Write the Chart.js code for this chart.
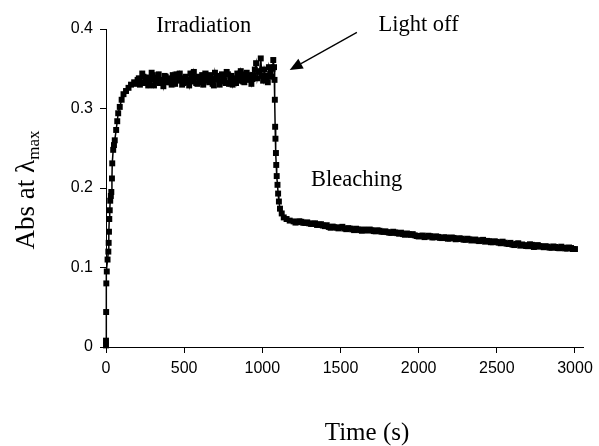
<!DOCTYPE html>
<html>
<head>
<meta charset="utf-8">
<script src="https://cdn.jsdelivr.net/npm/chart.js@4.4.0/dist/chart.umd.min.js"></script>
<style>
  html, body { margin: 0; padding: 0; background: #fff; }
</style>
</head>
<body>
<canvas id="absChart" width="599" height="446"></canvas>
<script>
// ---------- values ----------
// rise under irradiation (s / abs)
const riseTime = [0, 0, 1, 2, 5, 10, 15, 17, 19, 21, 24, 27, 31, 34, 38, 40, 46, 51, 56, 65, 72, 78, 88, 100, 112, 128, 144, 160, 180];
const riseAbs = [0.002, 0.008, 0.044, 0.08, 0.095, 0.11, 0.12, 0.131, 0.145, 0.161, 0.172, 0.184, 0.19, 0.195, 0.212, 0.231, 0.248, 0.254, 0.26, 0.273, 0.284, 0.294, 0.302, 0.311, 0.318, 0.322, 0.326, 0.33, 0.333];

// photostationary plateau, two interleaved reading sets
const plateauTime = [195, 210, 225, 240, 255, 270, 285, 300, 315, 330, 345, 360, 375, 390, 405, 420, 435, 450, 465, 480,
  495, 510, 525, 540, 555, 570, 585, 600, 615, 630, 645, 660, 675, 690, 705, 720, 735, 750, 765, 780,
  795, 810, 825, 840, 855, 870, 885, 900, 915, 930, 945, 960, 975, 990, 1005, 1020, 1035, 1050, 1065];
const plateauAbs = [0.331, 0.338, 0.333, 0.340, 0.335, 0.329, 0.337, 0.342, 0.334, 0.339, 0.332, 0.336, 0.341, 0.333, 0.338, 0.330, 0.336, 0.343, 0.335, 0.338,
  0.332, 0.340, 0.336, 0.344, 0.334, 0.339, 0.331, 0.337, 0.342, 0.335, 0.340, 0.333, 0.338, 0.329, 0.336, 0.341, 0.334, 0.339, 0.332, 0.343,
  0.336, 0.330, 0.338, 0.344, 0.335, 0.340, 0.333, 0.345, 0.336, 0.331, 0.342, 0.357, 0.347, 0.363, 0.335, 0.341, 0.333, 0.344, 0.350];
const plateauTime2 = [202, 217, 232, 247, 262, 277, 292, 307, 322, 337, 352, 367, 382, 397, 412, 427, 442, 457, 472, 487,
  502, 517, 532, 547, 562, 577, 592, 607, 622, 637, 652, 667, 682, 697, 712, 727, 742, 757, 772, 787,
  802, 817, 832, 847, 862, 877, 892, 907, 922, 937, 952, 967, 982, 997, 1012, 1027, 1042, 1057];
const plateauAbs2 = [0.336, 0.330, 0.344, 0.332, 0.339, 0.334, 0.345, 0.329, 0.337, 0.343,
  0.335, 0.328, 0.340, 0.337, 0.333, 0.342, 0.331, 0.338, 0.344, 0.330,
  0.337, 0.333, 0.329, 0.339, 0.346, 0.332, 0.340, 0.333, 0.330, 0.344,
  0.336, 0.342, 0.331, 0.345, 0.339, 0.330, 0.343, 0.335, 0.346, 0.331,
  0.341, 0.337, 0.332, 0.339, 0.347, 0.334, 0.343, 0.338, 0.342, 0.337,
  0.349, 0.338, 0.346, 0.341, 0.349, 0.336, 0.352, 0.340];

// light switched off -> fast drop
const dropTime = [1070, 1075, 1078, 1080, 1082, 1084, 1087, 1089, 1092, 1097, 1101, 1106, 1113, 1124, 1137, 1155, 1175];
const dropAbs = [0.361, 0.352, 0.336, 0.311, 0.277, 0.262, 0.244, 0.229, 0.215, 0.204, 0.193, 0.183, 0.174, 0.168, 0.163, 0.161, 0.159];

// slow thermal bleaching, two interleaved reading sets
const bleachTime = [1200, 1225, 1250, 1275, 1300, 1325, 1350, 1375, 1400, 1425, 1450, 1475, 1500, 1525, 1550, 1575, 1600, 1625, 1650, 1675,
  1700, 1725, 1750, 1775, 1800, 1825, 1850, 1875, 1900, 1925, 1950, 1975, 2000, 2025, 2050, 2075, 2100, 2125, 2150, 2175,
  2200, 2225, 2250, 2275, 2300, 2325, 2350, 2375, 2400, 2425, 2450, 2475, 2500, 2525, 2550, 2575, 2600, 2625, 2650, 2675,
  2700, 2725, 2750, 2775, 2800, 2825, 2850, 2875, 2900, 2925, 2950, 2975, 3000];
const bleachAbs = [0.158, 0.157, 0.1575, 0.156, 0.1555, 0.155, 0.1535, 0.1545, 0.152, 0.151, 0.1515, 0.150, 0.1505, 0.149, 0.1495, 0.148, 0.1488, 0.147, 0.1478, 0.1465,
  0.147, 0.1455, 0.1462, 0.1448, 0.1445, 0.1435, 0.1442, 0.1425, 0.142, 0.1428, 0.141, 0.1405, 0.139, 0.1402, 0.1388, 0.1395, 0.138, 0.1385, 0.137, 0.1378,
  0.1365, 0.1372, 0.1358, 0.1362, 0.1348, 0.1355, 0.1345, 0.1338, 0.1342, 0.1325, 0.1332, 0.1318, 0.1322, 0.1305, 0.1312, 0.1295, 0.1288, 0.1298, 0.1275, 0.1282,
  0.1268, 0.1285, 0.1262, 0.1270, 0.1255, 0.1262, 0.1248, 0.1258, 0.1242, 0.1250, 0.1238, 0.1245, 0.1232];
const bleachTime2 = [1212, 1237, 1262, 1287, 1312, 1337, 1362, 1387, 1412, 1437, 1462, 1487, 1512, 1537, 1562, 1587, 1612, 1637, 1662, 1687,
  1712, 1737, 1762, 1787, 1812, 1837, 1862, 1887, 1912, 1937, 1962, 1987, 2012, 2037, 2062, 2087, 2112, 2137, 2162, 2187,
  2212, 2237, 2262, 2287, 2312, 2337, 2362, 2387, 2412, 2437, 2462, 2487, 2512, 2537, 2562, 2587, 2612, 2637, 2662, 2687,
  2712, 2737, 2762, 2787, 2812, 2837, 2862, 2887, 2912, 2937, 2962, 2987];
const bleachAbs2 = [0.1565, 0.1582, 0.1562, 0.1568, 0.1548, 0.1556, 0.1540, 0.1528, 0.1532, 0.1500, 0.1508, 0.1492, 0.1512, 0.1482, 0.1490, 0.1470, 0.1480, 0.1462, 0.1470, 0.1478,
  0.1458, 0.1468, 0.1450, 0.1455, 0.1438, 0.1450, 0.1432, 0.1438, 0.1412, 0.1418, 0.1420, 0.1396, 0.1398, 0.1382, 0.1400, 0.1378, 0.1392, 0.1372, 0.1380, 0.1362,
  0.1378, 0.1355, 0.1368, 0.1350, 0.1362, 0.1340, 0.1352, 0.1332, 0.1348, 0.1335, 0.1318, 0.1330, 0.1312, 0.1325, 0.1300, 0.1310, 0.1282, 0.1305, 0.1290, 0.1270,
  0.1292, 0.1258, 0.1282, 0.1262, 0.1268, 0.1250, 0.1265, 0.1245, 0.1262, 0.1240, 0.1252, 0.1232];

const xTicks = [0, 500, 1000, 1500, 2000, 2500, 3000];
const yTicks = [0, 0.1, 0.2, 0.3, 0.4];

// ---------- build series (merged, in time order) ----------
const timeSec = [...riseTime, ...plateauTime, ...plateauTime2, ...dropTime, ...bleachTime, ...bleachTime2];
const absValues = [...riseAbs, ...plateauAbs, ...plateauAbs2, ...dropAbs, ...bleachAbs, ...bleachAbs2];
const points = timeSec.map((t, i) => ({ x: t, y: absValues[i] }))
    .sort((a, b) => a.x - b.x);

const serif = "'Liberation Serif', 'Times New Roman', serif";
const sans = "'Liberation Sans', Arial, sans-serif";

// labels placed in data units (time, abs) so they follow the scales
const notes = [
  { text: "Irradiation", t: 322, a: 0.3966 },
  { text: "Light off", t: 1743, a: 0.3978 },
  { text: "Bleaching", t: 1311, a: 0.2025 }
];
const arrowFrom = { t: 1605, a: 0.3958 };
const arrowTo = { t: 1175, a: 0.3484 };

const textPlugin = {
    id: "figureText",
    afterDraw(chart) {
        const { ctx, scales: { x, y } } = chart;
        ctx.save();
        ctx.fillStyle = "#000";
        ctx.strokeStyle = "#000";

        // annotations
        ctx.font = `22.5px ${serif}`;
        ctx.textAlign = "left";
        ctx.textBaseline = "alphabetic";
        notes.forEach(n => ctx.fillText(n.text, x.getPixelForValue(n.t), y.getPixelForValue(n.a)));

        // "Light off" arrow
        const x1 = x.getPixelForValue(arrowFrom.t), y1 = y.getPixelForValue(arrowFrom.a);
        const x2 = x.getPixelForValue(arrowTo.t), y2 = y.getPixelForValue(arrowTo.a);
        const ang = Math.atan2(y2 - y1, x2 - x1);
        const headLen = 13, headHalf = 5.5;
        const bx = x2 - headLen * Math.cos(ang), by = y2 - headLen * Math.sin(ang);
        ctx.lineWidth = 1.3;
        ctx.beginPath();
        ctx.moveTo(x1, y1);
        ctx.lineTo(bx, by);
        ctx.stroke();
        ctx.beginPath();
        ctx.moveTo(x2, y2);
        ctx.lineTo(bx + headHalf * Math.sin(ang), by - headHalf * Math.cos(ang));
        ctx.lineTo(bx - headHalf * Math.sin(ang), by + headHalf * Math.cos(ang));
        ctx.closePath();
        ctx.fill();

        // x title
        ctx.font = `25px ${serif}`;
        ctx.textAlign = "center";
        ctx.fillText("Time (s)", chart.chartArea.left + 261, 440);

        // y title with subscript
        const main = "Abs at \u03bb", sub = "max";
        ctx.font = `27px ${serif}`;
        const w1 = ctx.measureText(main).width;
        ctx.font = `17px ${serif}`;
        const w2 = ctx.measureText(sub).width;
        ctx.translate(34, 190);
        ctx.rotate(-Math.PI / 2);
        ctx.textAlign = "left";
        ctx.font = `27px ${serif}`;
        ctx.fillText(main, -(w1 + w2) / 2, 0);
        ctx.font = `17px ${serif}`;
        ctx.fillText(sub, -(w1 + w2) / 2 + w1, 5);
        ctx.restore();
    }
};

new Chart(document.getElementById("absChart"), {
    type: "line",
    data: {
        datasets: [{
            data: points,
            borderColor: "#000",
            borderWidth: 1.5,
            backgroundColor: "#000",
            pointStyle: "rect",
            pointRadius: 4.2,
            pointBorderWidth: 0,
            pointBackgroundColor: "#000",
            tension: 0,
            clip: false
        }]
    },
    options: {
        responsive: false,
        animation: false,
        layout: { padding: { top: 29, right: 12, left: 0, bottom: 0 } },
        plugins: { legend: { display: false }, tooltip: { enabled: false } },
        scales: {
            x: {
                type: "linear",
                min: 0,
                max: 3055,
                afterBuildTicks: (s) => { s.ticks = xTicks.map(v => ({ value: v })); },
                afterFit: (s) => { s.height = 99; },
                ticks: { color: "#000", font: { family: sans, size: 16 }, padding: 6, maxRotation: 0, callback: (v) => String(v) },
                grid: { drawOnChartArea: false, drawTicks: true, tickLength: 6, color: "#000", lineWidth: 1 },
                border: { display: true, color: "#000", width: 1 }
            },
            y: {
                min: 0,
                max: 0.4,
                afterBuildTicks: (s) => { s.ticks = yTicks.map(v => ({ value: v })); },
                afterFit: (s) => { s.width = 106; },
                ticks: { color: "#000", font: { family: sans, size: 16 }, padding: 7, callback: (v) => String(v) },
                grid: { drawOnChartArea: false, drawTicks: true, tickLength: 6, color: "#000", lineWidth: 1 },
                border: { display: true, color: "#000", width: 1 }
            }
        }
    },
    plugins: [textPlugin]
});
</script>
</body>
</html>
